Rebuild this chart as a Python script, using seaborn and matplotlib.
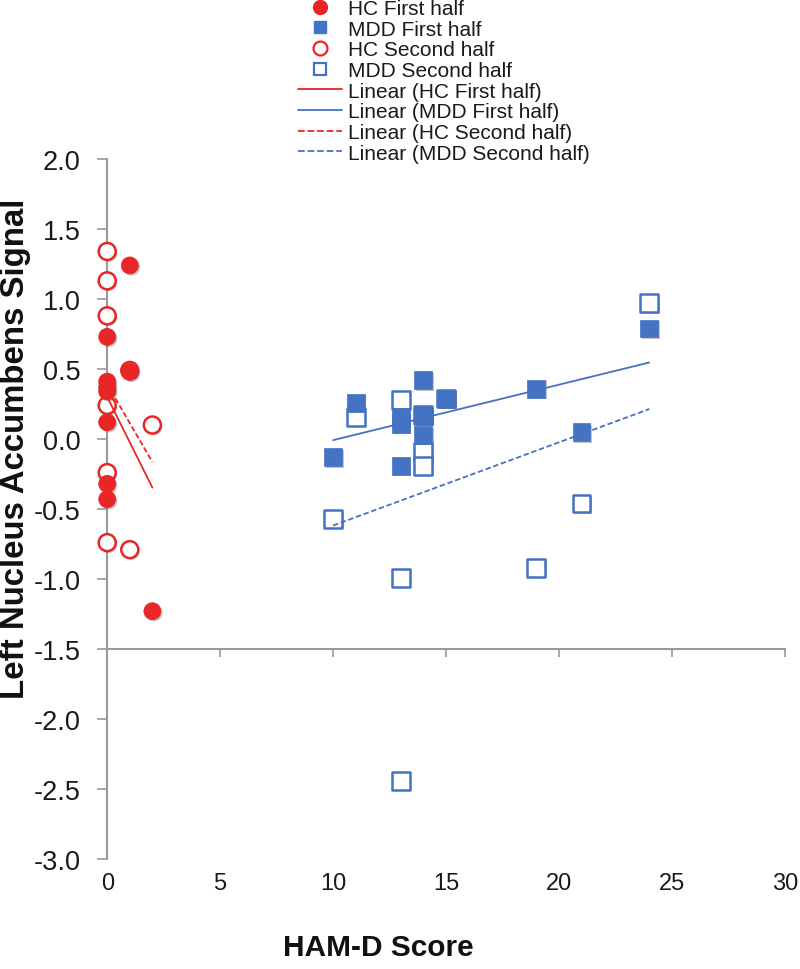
import numpy as np
import pandas as pd
import matplotlib
matplotlib.use("Agg")
import matplotlib.pyplot as plt
import matplotlib.patheffects as pe
from matplotlib.lines import Line2D
import seaborn as sns

# ---------------- data ----------------
hc1_x = [1, 0, 1, 0, 0, 0, 0, 0, 0, 2]
hc1_y = [1.24, 0.73, 0.48, 0.41, 0.37, 0.34, 0.12, -0.32, -0.43, -1.23]

mdd1_x = [10, 11, 13, 13, 13, 14, 14, 14, 15, 19, 21, 24]
mdd1_y = [-0.13, 0.26, 0.16, 0.11, -0.19, 0.42, 0.17, 0.03, 0.29, 0.36, 0.05, 0.79]

hc2_x = [0, 0, 0, 1, 0, 2, 0, 0, 1]
hc2_y = [1.34, 1.13, 0.88, 0.49, 0.24, 0.10, -0.24, -0.74, -0.79]

mdd2_x = [10, 11, 13, 13, 13, 14, 14, 14, 15, 19, 21, 24]
mdd2_y = [-0.57, 0.16, 0.28, -0.99, -2.44, 0.17, -0.09, -0.19, 0.29, -0.92, -0.46, 0.97]

series_names = ["HC First half", "MDD First half", "HC Second half", "MDD Second half"]
x_ticks = [0, 5, 10, 15, 20, 25, 30]
y_ticks = [-3.0, -2.5, -2.0, -1.5, -1.0, -0.5, 0.0, 0.5, 1.0, 1.5, 2.0]

RED = "#EA2528"
BLUE = "#4472C4"
GRAY = "#9A9A9A"

df = pd.concat([
    pd.DataFrame({"ham": hc1_x, "sig": hc1_y, "series": series_names[0]}),
    pd.DataFrame({"ham": mdd1_x, "sig": mdd1_y, "series": series_names[1]}),
    pd.DataFrame({"ham": hc2_x, "sig": hc2_y, "series": series_names[2]}),
    pd.DataFrame({"ham": mdd2_x, "sig": mdd2_y, "series": series_names[3]}),
], ignore_index=True)

sns.set_theme(style="white")
plt.rcParams["font.family"] = ["Liberation Sans", "DejaVu Sans"]
plt.rcParams["axes.unicode_minus"] = False

fig = plt.figure(figsize=(8, 9.7), dpi=100)
ax = fig.add_axes([0.134, 0.1134, 0.847, 0.7216])

shadow = [pe.SimplePatchShadow(offset=(1.2, -1.2), shadow_rgbFace="#555555", alpha=0.35), pe.Normal()]

style = {
    "HC First half": dict(marker="o", s=150, color=RED, edgecolor=RED, linewidth=0.5),
    "MDD First half": dict(marker="s", s=165, color=BLUE, edgecolor=BLUE, linewidth=0.5),
    "HC Second half": dict(marker="o", s=150, color="white", edgecolor=RED, linewidth=1.8),
    "MDD Second half": dict(marker="s", s=165, color="white", edgecolor=BLUE, linewidth=1.8),
}

# hollow series first, filled series on top (as in the reference)
for name in ["HC Second half", "MDD Second half", "HC First half", "MDD First half"]:
    sub = df[df.series == name]
    sns.scatterplot(data=sub, x="ham", y="sig", ax=ax, clip_on=False, zorder=3,
                    legend=False, **style[name])
for coll in ax.collections:
    coll.set_path_effects(shadow)

# linear trend lines
line_style = {
    "HC First half": dict(color=RED, ls="-"),
    "MDD First half": dict(color=BLUE, ls="-"),
    "HC Second half": dict(color=RED, ls=(0, (3, 1.5))),
    "MDD Second half": dict(color=BLUE, ls=(0, (3, 1.5))),
}
trend_handles = []
for name in series_names:
    sub = df[df.series == name]
    n_before = len(ax.lines)
    sns.regplot(data=sub, x="ham", y="sig", ax=ax, scatter=False, ci=None, truncate=True,
                line_kws=dict(lw=1.3, zorder=4, **line_style[name]))
    trend_handles.append(ax.lines[n_before])

ax.set_xlim(0, 30)
ax.set_ylim(-3.0, 2.0)
ax.set_xlabel("")
ax.set_ylabel("")

# y axis
ax.set_yticks(y_ticks)
ax.set_yticklabels([f"{v:.1f}" for v in y_ticks], fontsize=19.5, color="#1a1a1a")
ax.tick_params(axis="y", direction="out", length=7, width=1.2, color=GRAY, pad=12, left=True)

# x axis line crossing at -1.5
for s in ["top", "right"]:
    ax.spines[s].set_visible(False)
ax.spines["left"].set_color(GRAY)
ax.spines["left"].set_linewidth(1.5)
ax.spines["bottom"].set_position(("data", -1.5))
ax.spines["bottom"].set_color(GRAY)
ax.spines["bottom"].set_linewidth(1.5)
ax.set_xticks(x_ticks)
ax.tick_params(axis="x", direction="out", length=6, width=1.2, color=GRAY, bottom=True,
               labelbottom=False)

# x tick labels at the bottom of the plot area
sec = ax.secondary_xaxis("bottom")
sec.set_xticks(x_ticks)
sec.set_xticklabels([str(v) for v in x_ticks], fontsize=17, color="#1a1a1a")
sec.tick_params(axis="x", length=0, pad=9)
sec.spines["bottom"].set_visible(False)

# axis titles
fig.text(378 / 800, 1 - 948 / 970, "HAM-D Score", fontsize=21.5, fontweight="bold",
         ha="center", va="center", color="#111111")
fig.text(15.5 / 800, 1 - 449 / 970, "Left Nucleus Accumbens Signal", fontsize=23.8,
         fontweight="bold", rotation=90, ha="center", va="center", color="#111111")

# legend
marker_handles = [
    Line2D([], [], ls="none", marker="o", ms=10, mfc=RED, mec=RED),
    Line2D([], [], ls="none", marker="s", ms=9, mfc=BLUE, mec=BLUE),
    Line2D([], [], ls="none", marker="o", ms=10, mfc="white", mec=RED, mew=1.6),
    Line2D([], [], ls="none", marker="s", ms=9, mfc="white", mec=BLUE, mew=1.6),
]
line_handles = [Line2D([], [], color=h.get_color(), ls=h.get_linestyle(), lw=1.3)
                for h in trend_handles]
labels = series_names + [f"Linear ({n})" for n in series_names]
fig.legend(marker_handles + line_handles, labels, loc="upper left",
           bbox_to_anchor=(298 / 800, 1.0), frameon=False, fontsize=15,
           handlelength=2.1, handletextpad=0.3, labelspacing=0.08, borderpad=0.0,
           borderaxespad=0.0, labelcolor="#1a1a1a")

fig.savefig("out.png", dpi=100)
